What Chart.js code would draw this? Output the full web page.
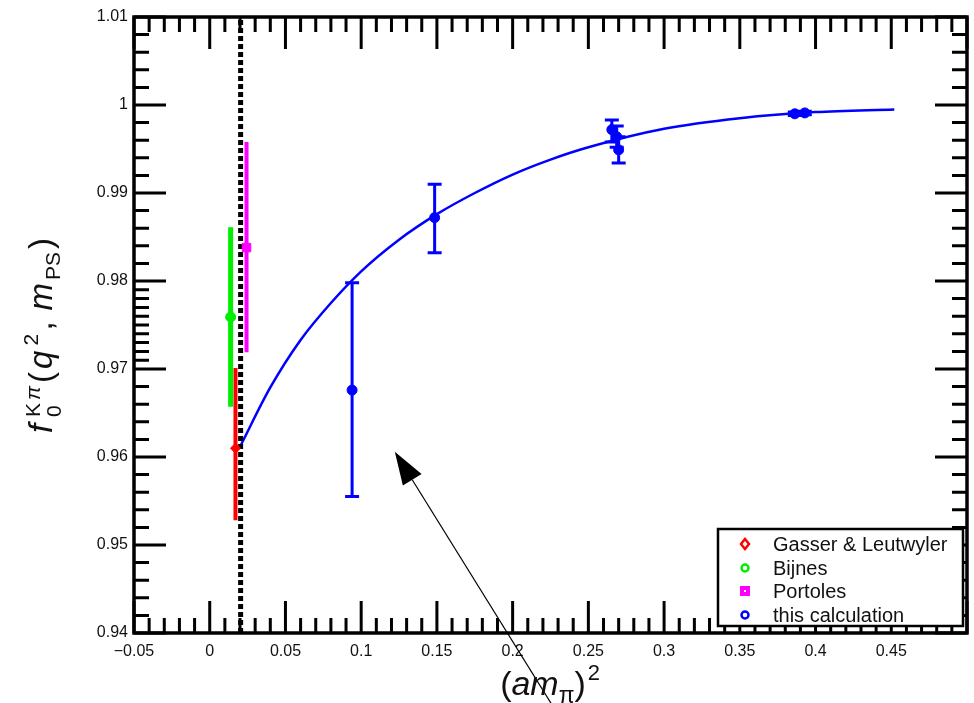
<!DOCTYPE html>
<html>
<head>
<meta charset="utf-8">
<script src="https://cdn.jsdelivr.net/npm/chart.js@4.4.0/dist/chart.umd.min.js"></script>
<style>
  html, body { margin: 0; padding: 0; background: #fff; }
  #wrap { width: 974px; height: 703px; }
</style>
</head>
<body>
<div id="wrap"><canvas id="fChart" width="974" height="703"></canvas></div>
<script>
// 축 눈금
const xTicks = [-0.05, 0, 0.05, 0.1, 0.15, 0.2, 0.25, 0.3, 0.35, 0.4, 0.45];
const yTicks = [0.94, 0.95, 0.96, 0.97, 0.98, 0.99, 1, 1.01];

// 다른 계산 결과 (x, 중심값, 아래, 위)
const gasserX = [0.017];
const gasserY = [0.961];
const gasserLo = [0.9528];
const gasserHi = [0.9701];

const bijnesX = [0.0138];
const bijnesY = [0.9759];
const bijnesLo = [0.9657];
const bijnesHi = [0.9861];

const portolesX = [0.0243];
const portolesY = [0.9838];
const portolesLo = [0.9719];
const portolesHi = [0.9958];

// this calculation
const calcX = [0.094, 0.1485, 0.2655, 0.2687, 0.2700, 0.3863, 0.3929];
const calcY = [0.9676, 0.9872, 0.9972, 0.9964, 0.9949, 0.9990, 0.9991];
const calcLo = [0.9555, 0.9832, 0.9958, 0.9952, 0.9934, 0.9988, 0.9989];
const calcHi = [0.9798, 0.9910, 0.9983, 0.9976, 0.9964, 0.9992, 0.9993];

// 피팅 곡선
const fitX = [0.0204, 0.04, 0.06, 0.08, 0.1, 0.125, 0.15, 0.175, 0.2, 0.225, 0.25, 0.3, 0.35, 0.4, 0.452];
const fitY = [0.9613, 0.9679, 0.9733, 0.9775, 0.9811, 0.9847, 0.9876, 0.9900, 0.9921, 0.9938, 0.9952, 0.9973, 0.9985, 0.9992, 0.9995];

// 물리적 파이온 질량 위치 (점선)
const physX = [0.0204, 0.0204];
const physY = [0.94, 1.01];

// 화살표 (끝, 꼬리)
const arrowX = [0.1222, 0.2254];
const arrowY = [0.9606, 0.9320];

const legendLabels = ["Gasser & Leutwyler", "Bijnes", "Portoles", "this calculation"];

const toPts = (xs, ys) => xs.map((x, i) => ({ x: x, y: ys[i] }));
const FONT = "'Liberation Sans', Arial, sans-serif";

// 에러바
const errorBars = {
    id: 'errorBars',
    beforeDatasetsDraw(chart) {
        const ctx = chart.ctx;
        const xs = chart.scales.x, ys = chart.scales.y;
        chart.data.datasets.forEach(ds => {
            if (!ds.errLo) return;
            ctx.save();
            ctx.strokeStyle = ds.borderColor;
            ctx.lineWidth = ds.errWidth;
            ds.data.forEach((p, i) => {
                const px = xs.getPixelForValue(p.x);
                const lo = ys.getPixelForValue(ds.errLo[i]);
                const hi = ys.getPixelForValue(ds.errHi[i]);
                ctx.beginPath();
                ctx.moveTo(px, lo);
                ctx.lineTo(px, hi);
                if (ds.errCap) {
                    ctx.moveTo(px - ds.errCap, lo);
                    ctx.lineTo(px + ds.errCap, lo);
                    ctx.moveTo(px - ds.errCap, hi);
                    ctx.lineTo(px + ds.errCap, hi);
                }
                ctx.stroke();
            });
            ctx.restore();
        });
    }
};

// 테두리와 안쪽 눈금
const frame = {
    id: 'frame',
    beforeDatasetsDraw(chart) {
        const ctx = chart.ctx;
        const a = chart.chartArea;
        const xs = chart.scales.x, ys = chart.scales.y;
        ctx.save();
        ctx.strokeStyle = '#000';
        ctx.lineWidth = 3;
        ctx.beginPath();
        // x 눈금: 0.01 간격, 0.05 마다 긴 눈금
        for (let k = -5; k <= 50; k++) {
            const px = xs.getPixelForValue(k / 100);
            const len = (k % 5 === 0) ? 32 : 15;
            ctx.moveTo(px, a.bottom);
            ctx.lineTo(px, a.bottom - len);
            ctx.moveTo(px, a.top);
            ctx.lineTo(px, a.top + len);
        }
        // y 눈금: 0.002 간격 (0.97~0.98 구간 왼쪽은 0.001)
        for (let k = 940; k <= 1010; k++) {
            const py = ys.getPixelForValue(k / 1000);
            const major = k % 10 === 0;
            const len = major ? 32 : 15;
            if (k % 2 === 0 || (k > 970 && k < 980)) {
                ctx.moveTo(a.left, py);
                ctx.lineTo(a.left + len, py);
            }
            if (k % 2 === 0) {
                ctx.moveTo(a.right, py);
                ctx.lineTo(a.right - len, py);
            }
        }
        ctx.stroke();
        ctx.lineWidth = 3.5;
        ctx.strokeRect(a.left, a.top, a.right - a.left, a.bottom - a.top);
        ctx.restore();
    },
    afterDatasetsDraw(chart) {
        const ctx = chart.ctx;
        const a = chart.chartArea;
        const xs = chart.scales.x, ys = chart.scales.y;

        // 범례
        const bw = 245, bh = 97;
        const bx = a.right - 4 - bw, by = a.bottom - 7 - bh;
        ctx.save();
        ctx.fillStyle = '#fff';
        ctx.fillRect(bx, by, bw, bh);
        ctx.strokeStyle = '#000';
        ctx.lineWidth = 2.5;
        ctx.strokeRect(bx, by, bw, bh);
        const mx = bx + 27, tx = bx + 55;
        const rows = [by + 15, by + 39, by + 62, by + 86];
        ctx.lineWidth = 2.5;
        // diamond
        ctx.strokeStyle = '#ff0000';
        ctx.beginPath();
        ctx.moveTo(mx, rows[0] - 5); ctx.lineTo(mx + 4, rows[0]);
        ctx.lineTo(mx, rows[0] + 5); ctx.lineTo(mx - 4, rows[0]); ctx.closePath();
        ctx.stroke();
        // circle
        ctx.strokeStyle = '#00ee00';
        ctx.beginPath(); ctx.arc(mx, rows[1], 3.5, 0, Math.PI * 2); ctx.stroke();
        // square
        ctx.fillStyle = '#ff00ff';
        ctx.fillRect(mx - 5, rows[2] - 5, 10, 10);
        ctx.fillStyle = '#fff';
        ctx.fillRect(mx - 1, rows[2] - 1, 2, 2);
        // blue circle
        ctx.strokeStyle = '#0000ff';
        ctx.beginPath(); ctx.arc(mx, rows[3], 3.5, 0, Math.PI * 2); ctx.stroke();
        ctx.fillStyle = '#111';
        ctx.font = '20px ' + FONT;
        ctx.textBaseline = 'middle';
        ctx.textAlign = 'left';
        legendLabels.forEach((t, i) => ctx.fillText(t, tx, rows[i] + 1));
        ctx.restore();

        // 화살표
        ctx.save();
        const tipX = xs.getPixelForValue(arrowX[0]), tipY = ys.getPixelForValue(arrowY[0]);
        const tailX = xs.getPixelForValue(arrowX[1]), tailY = ys.getPixelForValue(arrowY[1]);
        const ang = Math.atan2(tipY - tailY, tipX - tailX);
        const hl = 33, hw = 11;
        const baseX = tipX - hl * Math.cos(ang), baseY = tipY - hl * Math.sin(ang);
        ctx.strokeStyle = '#000';
        ctx.lineWidth = 1.2;
        ctx.beginPath();
        ctx.moveTo(tailX, tailY);
        ctx.lineTo(baseX, baseY);
        ctx.stroke();
        ctx.fillStyle = '#000';
        ctx.beginPath();
        ctx.moveTo(tipX, tipY);
        ctx.lineTo(baseX + hw * Math.sin(ang), baseY - hw * Math.cos(ang));
        ctx.lineTo(baseX - hw * Math.sin(ang), baseY + hw * Math.cos(ang));
        ctx.closePath();
        ctx.fill();
        ctx.restore();

        // 축 제목
        drawXTitle(ctx, 550, 695);
        drawYTitle(ctx, 41, 334);
    }
};

// 조각별 텍스트 (위첨자/아래첨자)
function drawPieces(ctx, pieces, cx, base, spacing) {
    let w = 0;
    pieces.forEach(p => {
        ctx.font = p.f;
        p.w = ctx.measureText(p.t).width + spacing;
        if (p.adv !== undefined) p.w = p.adv;
        w += p.w;
    });
    let x = cx - w / 2;
    ctx.fillStyle = '#111';
    ctx.textAlign = 'left';
    ctx.textBaseline = 'alphabetic';
    pieces.forEach(p => {
        ctx.font = p.f;
        ctx.fillText(p.t, x + (p.dx || 0), base + (p.dy || 0));
        x += p.w;
    });
}

function drawXTitle(ctx, cx, base) {
    drawPieces(ctx, [
        { t: '(', f: '34px ' + FONT },
        { t: 'am', f: 'italic 34px ' + FONT },
        { t: 'π', f: '23px ' + FONT, dy: 8 },
        { t: ')', f: '34px ' + FONT },
        { t: '2', f: '22px ' + FONT, dy: -15, dx: 2, adv: 14 }
    ], cx, base, 0);
}

function drawYTitle(ctx, cx, cy) {
    ctx.save();
    ctx.translate(cx, cy);
    ctx.rotate(-Math.PI / 2);
    drawPieces(ctx, [
        { t: 'f', f: 'italic 33px ' + FONT, adv: 16 },
        { t: '0', f: '21px ' + FONT, dy: 9, adv: 0 },
        { t: 'K', f: '21px ' + FONT, dy: -12, adv: 17 },
        { t: 'π', f: 'italic 21px ' + FONT, dy: -12 },
        { t: '(', f: '33px ' + FONT },
        { t: 'q', f: 'italic 33px ' + FONT },
        { t: '2', f: '21px ' + FONT, dy: -14, dx: 2, adv: 17 },
        { t: ',', f: '33px ' + FONT, adv: 20 },
        { t: 'm', f: 'italic 33px ' + FONT },
        { t: 'PS', f: '21px ' + FONT, dy: 8 },
        { t: ')', f: '33px ' + FONT }
    ], 0, 11, 3);
    ctx.restore();
}

function fmt(v) {
    const s = String(+v.toFixed(2));
    return v < 0 ? '\u2212' + s.slice(1) : s;
}

const ctx = document.getElementById('fChart').getContext('2d');
new Chart(ctx, {
    type: 'scatter',
    data: {
        datasets: [
            {
                label: legendLabels[0],
                data: toPts(gasserX, gasserY),
                errLo: gasserLo, errHi: gasserHi, errWidth: 4,
                borderColor: '#ff0000', backgroundColor: '#ff0000',
                pointStyle: 'rectRot', pointRadius: 5, order: 1
            },
            {
                label: legendLabels[1],
                data: toPts(bijnesX, bijnesY),
                errLo: bijnesLo, errHi: bijnesHi, errWidth: 5,
                borderColor: '#00ee00', backgroundColor: '#00ee00',
                pointStyle: 'circle', pointRadius: 5, order: 1
            },
            {
                label: legendLabels[2],
                data: toPts(portolesX, portolesY),
                errLo: portolesLo, errHi: portolesHi, errWidth: 4,
                borderColor: '#ff00ff', backgroundColor: '#ff00ff',
                pointStyle: 'rect', pointRadius: 6, order: 1
            },
            {
                label: legendLabels[3],
                data: toPts(calcX, calcY),
                errLo: calcLo, errHi: calcHi, errWidth: 3, errCap: 7,
                borderColor: '#0000ff', backgroundColor: '#0000ff',
                pointStyle: 'circle', pointRadius: 5, order: 1
            },
            {
                label: 'fit',
                data: toPts(fitX, fitY),
                showLine: true, pointRadius: 0,
                borderColor: '#0000ff', borderWidth: 2.5,
                cubicInterpolationMode: 'monotone', order: 3
            },
            {
                label: 'physical',
                data: toPts(physX, physY),
                showLine: true, pointRadius: 0,
                borderColor: '#000', borderWidth: 5, borderDash: [5, 3],
                order: 2
            }
        ]
    },
    options: {
        responsive: false,
        animation: false,
        layout: { padding: { top: 17, right: 3, left: 0, bottom: 0 } },
        plugins: { legend: { display: false }, tooltip: { enabled: false } },
        scales: {
            x: {
                type: 'linear', min: -0.05, max: 0.5,
                afterBuildTicks: axis => { axis.ticks = xTicks.map(v => ({ value: v })); },
                afterFit: s => { s.height = 70; },
                grid: { display: false, drawTicks: false },
                border: { display: false },
                ticks: {
                    padding: 9, color: '#111', maxRotation: 0, autoSkip: false,
                    font: { family: FONT, size: 16 },
                    callback: v => fmt(v)
                }
            },
            y: {
                type: 'linear', min: 0.94, max: 1.01,
                afterBuildTicks: axis => { axis.ticks = yTicks.map(v => ({ value: v })); },
                afterFit: s => { s.width = 134; },
                grid: { display: false, drawTicks: false },
                border: { display: false },
                ticks: {
                    padding: 6, color: '#111', autoSkip: false,
                    font: { family: FONT, size: 16 },
                    callback: v => fmt(v)
                }
            }
        }
    },
    plugins: [frame, errorBars]
});
</script>
</body>
</html>
